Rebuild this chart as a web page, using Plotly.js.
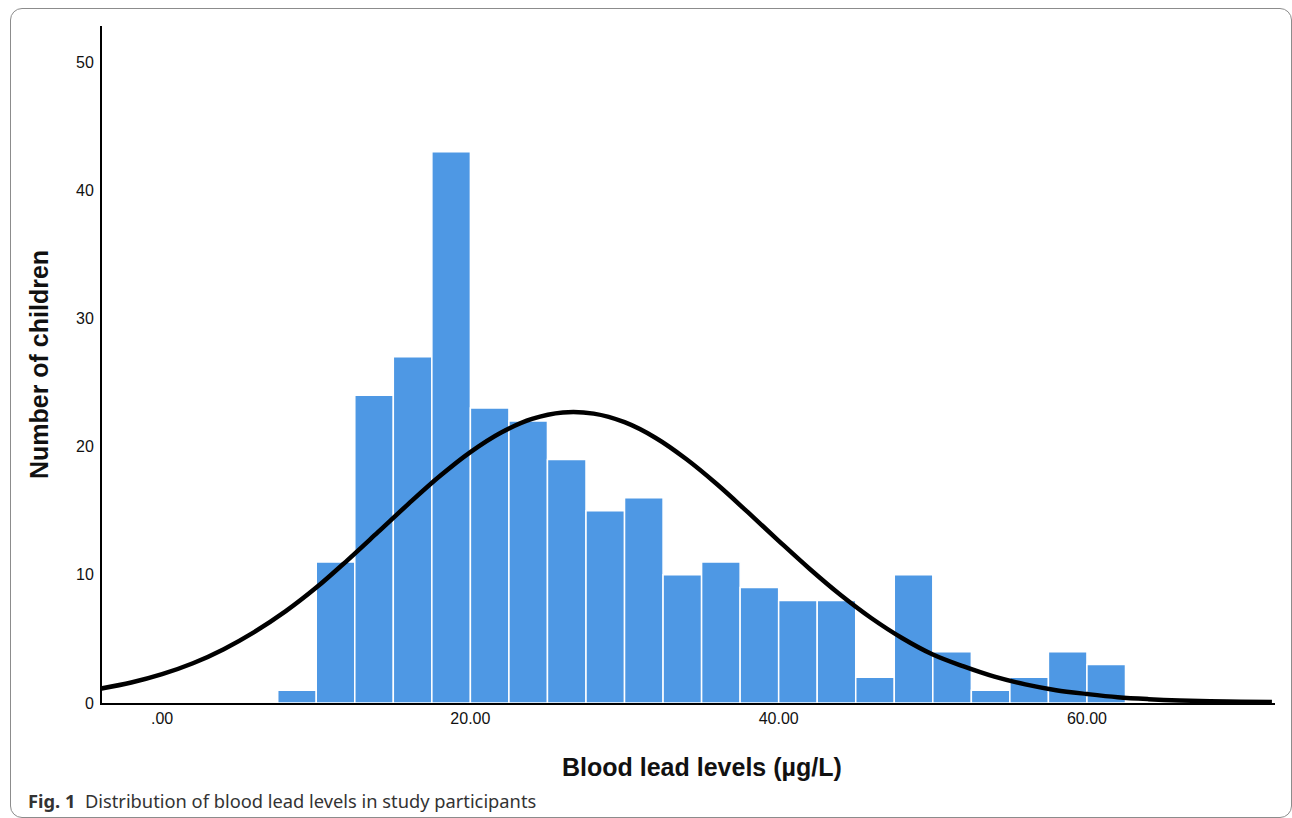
<!DOCTYPE html>
<html>
<head>
<meta charset="utf-8">
<script src="https://cdn.plot.ly/plotly-3.0.1.min.js"></script>
<style>
  html, body { margin: 0; padding: 0; background: #fff; }
  #wrap { position: relative; width: 1292px; height: 818px; overflow: hidden; }
  #chart { position: absolute; left: 0; top: 0; width: 1292px; height: 818px; }
  #frame { position: absolute; left: 10px; top: 8px; width: 1280px; height: 808px;
           border: 1px solid #8c8c8c; border-radius: 12px; pointer-events: none; }
</style>
</head>
<body>
<div id="wrap">
  <div id="chart"></div>
  <div id="frame"></div>
</div>
<script>
// Histogram bins (left edges, µg/L) and counts of children
const binLeftEdges = [7.5, 10, 12.5, 15, 17.5, 20, 22.5, 25, 27.5, 30, 32.5,
                      35, 37.5, 40, 42.5, 45, 47.5, 50, 52.5, 55, 57.5, 60];
const binCounts = [1, 11, 24, 27, 43, 23, 22, 19, 15, 16, 10,
                   11, 9, 8, 8, 2, 10, 4, 1, 2, 4, 3];
const binWidth = 2.5;

// Fitted normal curve
const curveX = [-4, -2, 0, 2, 4, 6, 8, 10, 12, 14, 16, 18, 20, 22, 24, 26, 28, 30,
                32, 34, 36, 38, 40, 42, 44, 46, 48, 50, 52, 54, 56, 58, 60, 62,
                64, 66, 68, 70, 72];
const curveY = [1.12, 1.6, 2.25, 3.1, 4.2, 5.55, 7.14, 9.0, 11.11, 13.32, 15.55,
                17.68, 19.57, 21.1, 22.16, 22.66, 22.57, 21.9, 20.69, 19.03, 17.06,
                14.88, 12.65, 10.47, 8.44, 6.63, 5.07, 3.78, 2.85, 2.05, 1.45, 1.0,
                0.7, 0.45, 0.3, 0.2, 0.14, 0.1, 0.08];

// Axis ticks
const xTickVals = [0, 20, 40, 60];
const xTickText = ['.00', '20.00', '40.00', '60.00'];
const yTickVals = [0, 10, 20, 30, 40, 50];

const binCenters = binLeftEdges.map(e => e + binWidth / 2);

const chartFont = '"Liberation Sans", Arial, sans-serif';

const traces = [
  {
    type: 'bar',
    x: binCenters,
    y: binCounts,
    width: binCenters.map(() => binWidth),
    marker: { color: '#4E98E4', line: { color: '#ffffff', width: 1.5 } },
    hoverinfo: 'x+y'
  },
  {
    type: 'scatter',
    mode: 'lines',
    x: curveX,
    y: curveY,
    line: { color: '#000000', width: 4.5, shape: 'spline', smoothing: 1 },
    hoverinfo: 'skip'
  }
];

const layout = {
  width: 1292,
  height: 818,
  margin: { l: 102, r: 17, t: 26, b: 115, pad: 0 },
  paper_bgcolor: 'rgba(0,0,0,0)',
  plot_bgcolor: 'rgba(0,0,0,0)',
  showlegend: false,
  bargap: 0,
  font: { family: chartFont, color: '#111111' },
  xaxis: {
    range: [-3.9, 72.2],
    showline: true, linecolor: '#000000', linewidth: 2,
    showgrid: false, zeroline: false, ticks: '',
    tickvals: xTickVals, ticktext: xTickText,
    tickfont: { size: 16, family: chartFont, color: '#111111' },
    automargin: false,
    fixedrange: true
  },
  yaxis: {
    range: [0, 52.8],
    showline: true, linecolor: '#000000', linewidth: 2,
    showgrid: false, zeroline: false, ticks: '',
    tickvals: yTickVals,
    ticklabelstandoff: 3,
    tickfont: { size: 16, family: chartFont, color: '#111111' },
    title: { text: '<b>Number of children</b>', font: { size: 25, family: chartFont, color: '#111111' }, standoff: 20 },
    automargin: false,
    fixedrange: true
  },
  annotations: [
    {
      xref: 'paper', yref: 'paper',
      x: (702 - 102) / 1173, y: (703 - 767) / 677,
      xanchor: 'center', yanchor: 'middle',
      showarrow: false,
      text: '<b>Blood lead levels (µg/L)</b>',
      font: { family: chartFont, size: 25, color: '#111111' }
    },
    {
      xref: 'paper', yref: 'paper',
      x: (26 - 102) / 1173, y: (703 - 801) / 677,
      xanchor: 'left', yanchor: 'middle',
      showarrow: false,
      text: '<b>Fig. 1</b>\u00a0\u00a0Distribution of blood lead levels in study participants',
      font: { family: '"Noto Sans", "Open Sans", sans-serif', size: 18.3, color: '#333333' }
    }
  ]
};

Plotly.newPlot('chart', traces, layout, { displayModeBar: false, staticPlot: true });
</script>
</body>
</html>
